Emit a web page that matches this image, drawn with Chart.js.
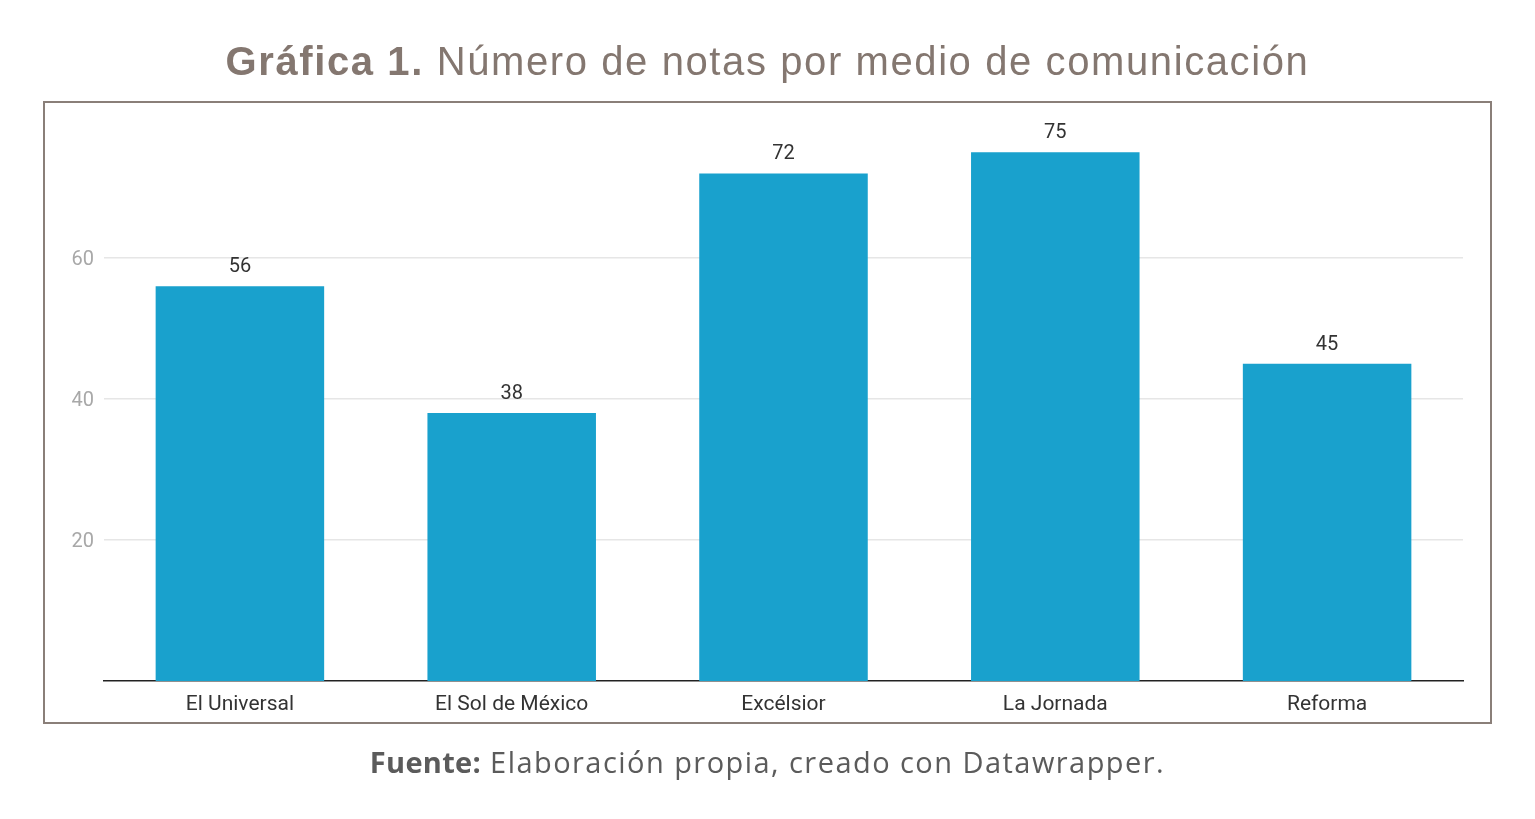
<!DOCTYPE html>
<html>
<head>
<meta charset="utf-8">
<script src="https://cdn.jsdelivr.net/npm/chart.js@4/dist/chart.umd.min.js"></script>
<style>
  html, body { margin:0; padding:0; background:#fff; }
  #wrap { position:relative; width:1535px; height:819px; overflow:hidden; }
  #title { position:absolute; left:0; width:1535px; top:36px; text-align:center;
    font-family:"Liberation Sans", Arial, sans-serif; font-size:40px; color:#847770; line-height:50px; letter-spacing:1.6px; }
  #title b { font-weight:bold; }
  #frame { position:absolute; left:43px; top:101px; width:1445px; height:619px; border:2px solid #8a7f79; }
  #footer { position:absolute; left:0; width:1535px; top:742px; text-align:center;
    font-family:"Open Sans", "Noto Sans", sans-serif; font-size:29px; color:#5b5b5b; line-height:40px; letter-spacing:1.45px; }
  #footer b { font-weight:bold; letter-spacing:0.3px; }
  canvas { position:absolute; left:0; top:0; }
</style>
</head>
<body>
<div id="wrap">
  <canvas id="c" width="1535" height="819"></canvas>
  <div id="frame"></div>
  <div id="title"><b>Gráfica 1.</b> Número de notas por medio de comunicación</div>
  <div id="footer"><b>Fuente:</b> Elaboración propia, creado con Datawrapper.</div>
</div>
<script>
const categories = ["El Universal", "El Sol de México", "Excélsior", "La Jornada", "Reforma"];
const notas = [56, 38, 72, 75, 45];
const yTicks = [20, 40, 60];

const valueLabels = {
  id: 'valueLabels',
  afterDatasetsDraw(chart) {
    const ctx = chart.ctx;
    const meta = chart.getDatasetMeta(0);
    ctx.save();
    ctx.font = '20px Roboto, "Liberation Sans", sans-serif';
    ctx.fillStyle = '#333333';
    ctx.textAlign = 'center';
    ctx.textBaseline = 'middle';
    meta.data.forEach((bar, i) => {
      ctx.fillText(String(notas[i]), bar.x, bar.y - 19);
    });
    ctx.restore();
  }
};

new Chart(document.getElementById('c'), {
  type: 'bar',
  data: {
    labels: categories,
    datasets: [{
      data: notas,
      backgroundColor: '#19a1cd',
      borderWidth: 0,
      categoryPercentage: 1,
      barPercentage: 0.62
    }]
  },
  options: {
    responsive: false,
    animation: false,
    devicePixelRatio: 1,
    layout: { padding: { left: 44, right: 72, top: 117, bottom: 100 } },
    plugins: { legend: { display: false }, tooltip: { enabled: false } },
    scales: {
      x: {
        grid: { display: false, drawTicks: false },
        border: { display: true, color: '#222222', width: 1.5 },
        ticks: { color: '#333333', font: { family: 'Roboto, "Liberation Sans", sans-serif', size: 21 }, padding: 11, maxRotation: 0 },
        afterFit(s) { s.height = 38; }
      },
      y: {
        min: 0, max: 80,
        grid: { color: '#e6e6e6', lineWidth: 1.5, drawTicks: false },
        border: { display: false },
        ticks: { stepSize: 20, color: '#a8a8a8', font: { family: 'Roboto, "Liberation Sans", sans-serif', size: 20 }, padding: 10, labelOffset: 2 },
        afterBuildTicks(s) { s.ticks = yTicks.map(v => ({ value: v })); },
        afterFit(s) { s.width = 60; }
      }
    }
  },
  plugins: [valueLabels]
});
</script>
</body>
</html>
